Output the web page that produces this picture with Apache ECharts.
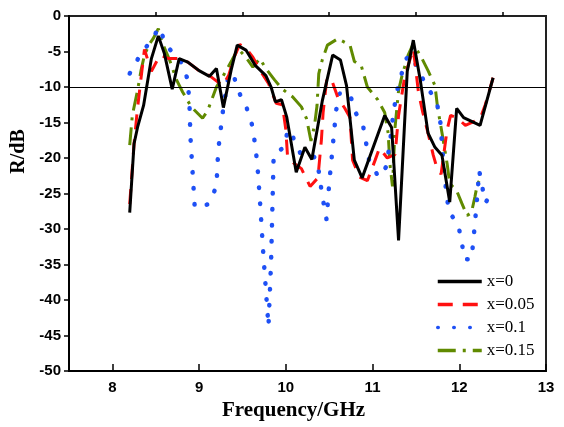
<!DOCTYPE html>
<html>
<head>
<meta charset="utf-8">
<script src="https://cdn.jsdelivr.net/npm/echarts@6/dist/echarts.min.js"></script>
<style>
  html, body { margin: 0; padding: 0; background: #fff; }
  #chart { width: 564px; height: 427px; }
</style>
</head>
<body>
<div id="chart"></div>
<script>
// values (frequency in GHz, R in dB)
const freqX0 = [8.2, 8.25, 8.29, 8.36, 8.45, 8.53, 8.6, 8.69, 8.77, 8.87, 9.0, 9.12, 9.2, 9.28, 9.37, 9.44, 9.54, 9.65, 9.77, 9.83, 9.88, 9.95, 10.01, 10.12, 10.22, 10.3, 10.42, 10.54, 10.63, 10.7, 10.79, 10.88, 11.14, 11.22, 11.3, 11.4, 11.47, 11.55, 11.64, 11.72, 11.8, 11.89, 11.97, 12.05, 12.24, 12.39]
const rX0 = [-27.7, -18, -15.7, -12.6, -6, -2.8, -5.3, -10.3, -6, -6.5, -7.7, -8.5, -7.4, -12.9, -7.6, -4.1, -4.8, -7, -8.4, -10, -12.1, -11.8, -14.2, -22, -18.5, -20.2, -12, -5.5, -6.2, -9.8, -20.3, -22.8, -14, -15.7, -31.6, -7.8, -3.4, -9, -16.5, -18.5, -19.6, -26.2, -13, -14.3, -15.4, -8.7]

const freqX005 = [8.2, 8.25, 8.29, 8.33, 8.37, 8.45, 8.55, 8.65, 8.77, 8.87, 9.0, 9.12, 9.27, 9.34, 9.41, 9.47, 9.55, 9.62, 9.72, 9.8, 9.89, 9.96, 10.0, 10.02, 10.1, 10.18, 10.28, 10.37, 10.41, 10.43, 10.47, 10.52, 10.6, 10.68, 10.74, 10.77, 10.85, 10.94, 11.03, 11.08, 11.17, 11.26, 11.3, 11.37, 11.47, 11.53, 11.58, 11.64, 11.7, 11.74, 11.79, 11.86, 11.9, 11.97, 12.07, 12.24, 12.3, 12.39]
const rX005 = [-26.5, -18, -13, -8.8, -4.7, -7.8, -5.5, -6, -6, -6.5, -7.7, -8.4, -9.8, -8.4, -5.6, -4, -4.7, -5.8, -8, -9.5, -12.3, -12.5, -16, -19.8, -20.8, -21.5, -24, -22.8, -17.5, -13.6, -9.1, -8.7, -11.5, -13, -14.3, -20.3, -22.7, -23.2, -20.3, -18.6, -20, -19.5, -14, -8.6, -4.6, -10.8, -13.6, -16.5, -19.6, -21.3, -22.3, -16, -14, -14.3, -15.4, -14.5, -12.5, -8.7]

const freqX01 = [8.2, 8.32, 8.45, 8.54, 8.62, 8.8, 8.87, 8.89, 8.9, 8.92, 8.95, 9.11, 9.2, 9.22, 9.27, 9.33, 9.39, 9.45, 9.55, 9.62, 9.67, 9.7, 9.74, 9.8, 9.83, 9.86, 9.99, 10.02, 10.08, 10.17, 10.28, 10.36, 10.42, 10.47, 10.5, 10.54, 10.58, 10.62, 10.74, 10.79, 10.89, 10.96, 11.07, 11.16, 11.22, 11.24, 11.3, 11.39, 11.45, 11.51, 11.62, 11.74, 11.78, 11.83, 11.88, 11.98, 12.03, 12.05, 12.14, 12.16, 12.18, 12.21, 12.23, 12.3, 12.39]
const rX01 = [-8.1, -5.5, -3.4, -1.6, -4.1, -6.6, -9, -12.8, -17, -21, -27, -26.5, -24, -19, -13.8, -9, -8, -10.5, -13, -15.7, -20.6, -25.7, -33.4, -43.7, -34.7, -19.5, -18.4, -16, -17, -19.4, -19.4, -20.2, -25.3, -28.7, -23.6, -18.5, -13.3, -10.9, -10.9, -13.3, -15.4, -20.3, -22.7, -21.2, -16, -13.6, -9.5, -6, -5.5, -7.2, -9.8, -12.1, -14.7, -22.7, -27.6, -29.2, -31.6, -34.2, -34.3, -31.9, -29.3, -25, -21.8, -26.3, -24.8]

const freqX015 = [8.2, 8.23, 8.29, 8.33, 8.37, 8.43, 8.47, 8.53, 8.58, 8.66, 8.74, 8.81, 8.91, 9.04, 9.1, 9.2, 9.27, 9.38, 9.45, 9.55, 9.62, 9.7, 9.77, 9.87, 9.96, 10.08, 10.18, 10.24, 10.29, 10.33, 10.36, 10.38, 10.42, 10.48, 10.6, 10.74, 10.79, 10.87, 10.94, 11.06, 11.14, 11.18, 11.2, 11.23, 11.26, 11.3, 11.34, 11.41, 11.47, 11.57, 11.64, 11.72, 11.75, 11.8, 11.86, 11.89, 11.97, 12.03, 12.09, 12.14, 12.18, 12.21, 12.27]
const rX015 = [-18.2, -14, -10.5, -7.7, -5.5, -3.9, -3.2, -1.8, -3.9, -6.2, -9, -10.7, -12.8, -14.4, -13.3, -10, -8.6, -6.2, -4.6, -6, -7.2, -6, -7.4, -9, -10.3, -11.4, -12.8, -14.5, -17.6, -15.5, -12.6, -8.1, -6.2, -4.1, -3.2, -4.1, -6.4, -7, -10, -11.8, -13.6, -16.5, -20.8, -24, -15.6, -10.5, -8.4, -5.5, -3.9, -6, -7.7, -9.8, -12.9, -16.4, -20.8, -23.6, -24.6, -26.4, -28.1, -27.7, -25.5, -23.6, -22.5]

const seriesNames = ['x=0', 'x=0.05', 'x=0.1', 'x=0.15']
const xMajorTicks = [8, 9, 10, 11, 12, 13]
const xMinorTicks = [8.5, 9.5, 10.5, 11.5, 12.5]

const serif = "'Liberation Serif', 'Times New Roman', serif"
const sans = "'Liberation Sans', Arial, sans-serif"

function zip(xs, ys) {
  return xs.map((x, i) => [x, ys[i]])
}

const chart = echarts.init(document.getElementById('chart'), null, { renderer: 'canvas' })

const axisLineStyle = { color: '#000', width: 2 }

const option = {
  animation: false,
  grid: {
    left: 69, right: 18, top: 16, bottom: 56,
    show: true, borderColor: '#222', borderWidth: 2, backgroundColor: 'transparent'
  },
  legend: {
    orient: 'vertical',
    left: 431,
    top: 268,
    itemWidth: 44,
    itemHeight: 14,
    itemGap: 6,
    data: seriesNames,
    itemStyle: { opacity: 0 },
    lineStyle: { width: 3.5 },
    textStyle: { fontFamily: serif, fontSize: 17, color: '#000' }
  },
  xAxis: [{
    type: 'value',
    min: 7.5,
    max: 13,
    name: 'Frequency/GHz',
    nameLocation: 'middle',
    nameGap: 29,
    nameTextStyle: { fontFamily: serif, fontSize: 21, fontWeight: 'bold', color: '#000', padding: [0, 28, 0, 0] },
    axisLine: { show: true, onZero: false, lineStyle: axisLineStyle },
    axisTick: { show: true, inside: true, length: 7, customValues: xMajorTicks, lineStyle: { color: '#000', width: 1.5 } },
    axisLabel: { customValues: xMajorTicks, fontFamily: sans, fontSize: 15, fontWeight: 'bold', color: '#000', margin: 9 },
    splitLine: { show: false }
  }, {
    type: 'value',
    min: 7.5,
    max: 13,
    position: 'bottom',
    axisLine: { show: false },
    axisTick: { show: true, inside: true, length: 4, customValues: xMinorTicks, lineStyle: { color: '#000', width: 1.5 } },
    axisLabel: { show: false },
    splitLine: { show: false }
  }],
  yAxis: {
    type: 'value',
    min: -50,
    max: 0,
    interval: 5,
    name: 'R/dB',
    nameLocation: 'middle',
    nameGap: 30,
    nameTextStyle: { fontFamily: serif, fontSize: 20, fontWeight: 'bold', color: '#000', padding: [0, 0, 0, 84] },
    axisLine: { show: true, onZero: false, lineStyle: axisLineStyle },
    axisTick: { show: true, inside: false, length: 5, lineStyle: { color: '#000', width: 1.5 } },
    axisLabel: { fontFamily: sans, fontSize: 15, fontWeight: 'bold', color: '#000', margin: 8 },
    splitLine: { show: false }
  },
  series: [{
    name: seriesNames[0],
    type: 'line',
    data: zip(freqX0, rX0),
    symbol: 'none',
    z: 5,
    lineStyle: { color: '#000', width: 3, type: 'solid' },
    itemStyle: { color: '#000' },
    markLine: {
      silent: true,
      symbol: ['none', 'none'],
      label: { show: false },
      lineStyle: { color: '#000', width: 1, type: 'solid' },
      data: [{ yAxis: -10 }]
    }
  }, {
    name: seriesNames[1],
    type: 'line',
    data: zip(freqX005, rX005),
    symbol: 'none',
    z: 4,
    lineStyle: { color: '#ff1010', width: 3, type: [15, 10] },
    itemStyle: { color: '#ff1010' }
  }, {
    name: seriesNames[2],
    type: 'line',
    data: zip(freqX01, rX01),
    symbol: 'none',
    z: 3,
    lineStyle: { color: '#1e50f5', width: 4.5, type: [0.5, 15.5], cap: 'round' },
    itemStyle: { color: '#1e50f5' }
  }, {
    name: seriesNames[3],
    type: 'line',
    data: zip(freqX015, rX015),
    symbol: 'none',
    z: 2,
    lineStyle: { color: '#608a00', width: 3, type: [18, 7, 3, 7] },
    itemStyle: { color: '#608a00' }
  }]
}

chart.setOption(option)
</script>
</body>
</html>
